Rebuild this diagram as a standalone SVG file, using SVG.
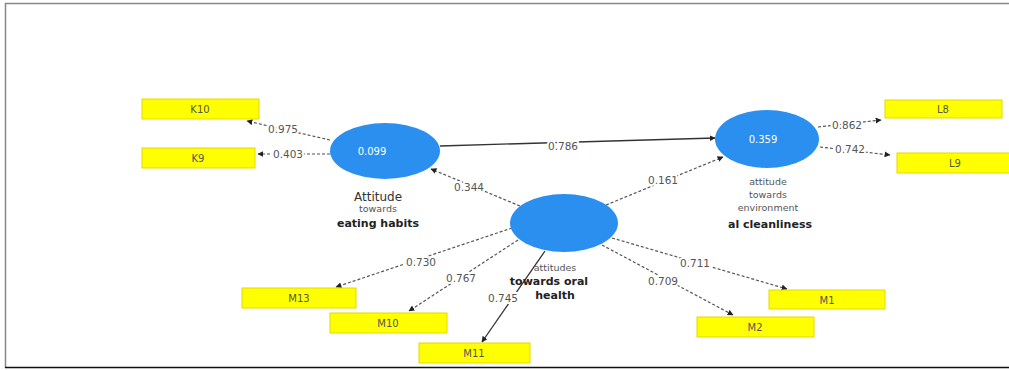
<svg xmlns="http://www.w3.org/2000/svg" width="1009" height="370" viewBox="0 0 1009 370">
<style>
.lv{fill:#2b8ff0}
.ind{fill:#ffff00;stroke:#e6d800;stroke-width:1}
.it{font-family:"DejaVu Sans",Verdana,sans-serif;font-size:10px;fill:#555;text-anchor:middle}
.nl{font-family:"DejaVu Sans",Verdana,sans-serif;font-size:9.5px;fill:#555;text-anchor:middle}
.nt{font-family:"DejaVu Sans",Verdana,sans-serif;font-size:12px;fill:#333;text-anchor:middle}
.nb{font-family:"DejaVu Sans",Verdana,sans-serif;font-size:11px;fill:#222;text-anchor:middle;font-weight:bold}
.wv{font-family:"DejaVu Sans",Verdana,sans-serif;font-size:10px;fill:#fff;text-anchor:middle}
.el{font-family:"DejaVu Sans",Verdana,sans-serif;font-size:10.5px;fill:#555;text-anchor:middle;stroke:#fff;stroke-width:4;paint-order:stroke}
.d{stroke:#555;stroke-width:1.2;stroke-dasharray:3,2;fill:none;marker-end:url(#ah)}
.s{stroke:#333;stroke-width:1.3;fill:none;marker-end:url(#ah)}
</style>
<defs>
<marker id="ah" viewBox="0 0 10 10" refX="9" refY="5" markerWidth="6" markerHeight="6" orient="auto" markerUnits="userSpaceOnUse">
<path d="M0,0 L10,5 L0,10 z" fill="#222"/>
</marker>
</defs>
<rect x="0" y="0" width="1009" height="370" fill="#fff"/>
<g id="frame">
<line x1="5" y1="3.5" x2="1009" y2="3.5" stroke="#888" stroke-width="1.5"/>
<line x1="5.5" y1="3" x2="5.5" y2="368" stroke="#888" stroke-width="1.5"/>
<line x1="5" y1="367.5" x2="1009" y2="367.5" stroke="#111" stroke-width="1.5"/>
</g>
<g id="connectors">
<line class="d" x1="330" y1="140" x2="247" y2="121"/>
<line class="d" x1="330" y1="154" x2="258" y2="154"/>
<line class="s" x1="440" y1="146" x2="715" y2="138"/>
<line class="d" x1="520" y1="206" x2="431" y2="169"/>
<line class="d" x1="606" y1="205" x2="723" y2="157"/>
<line class="d" x1="818" y1="127" x2="881" y2="120"/>
<line class="d" x1="820" y1="147" x2="890" y2="155"/>
<line class="d" x1="512" y1="228" x2="336" y2="287"/>
<line class="d" x1="518" y1="240" x2="409" y2="311"/>
<line class="s" x1="545" y1="251" x2="482" y2="342"/>
<line class="d" x1="612" y1="238" x2="787" y2="289"/>
<line class="d" x1="602" y1="245" x2="733" y2="315"/>
<text class="el" x="283" y="133">0.975</text>
<text class="el" x="288" y="158">0.403</text>
<text class="el" x="563" y="150">0.786</text>
<text class="el" x="469" y="191">0.344</text>
<text class="el" x="663" y="184">0.161</text>
<text class="el" x="847" y="129">0.862</text>
<text class="el" x="850" y="153">0.742</text>
<text class="el" x="421" y="266">0.730</text>
<text class="el" x="461" y="282">0.767</text>
<text class="el" x="503" y="302">0.745</text>
<text class="el" x="695" y="267">0.711</text>
<text class="el" x="663" y="285">0.709</text>
</g>
<g id="eating">
<ellipse class="lv" cx="385" cy="151" rx="55" ry="28"/>
<text class="wv" x="372" y="155">0.099</text>
<text class="nt" x="378" y="201">Attitude</text>
<text class="nl" x="378" y="212">towards</text>
<text class="nb" x="378" y="227">eating habits</text>
</g>
<g id="environment">
<ellipse class="lv" cx="767" cy="139" rx="52" ry="29"/>
<text class="wv" x="763" y="143">0.359</text>
<text class="nl" x="768" y="185">attitude</text>
<text class="nl" x="768" y="198">towards</text>
<text class="nl" x="768" y="211">environment</text>
<text class="nb" x="770" y="228">al cleanliness</text>
</g>
<g id="oral">
<ellipse class="lv" cx="564" cy="223" rx="54" ry="29"/>
<text class="nl" x="555" y="271">attitudes</text>
<text class="nb" x="549" y="285">towards oral</text>
<text class="nb" x="555" y="299">health</text>
</g>
<g id="K10"><rect class="ind" x="142" y="99" width="117" height="20"/><text class="it" x="200" y="113">K10</text></g>
<g id="K9"><rect class="ind" x="142" y="148" width="113" height="20"/><text class="it" x="198" y="162">K9</text></g>
<g id="L8"><rect class="ind" x="885" y="100" width="117" height="18"/><text class="it" x="943" y="113">L8</text></g>
<g id="L9"><rect class="ind" x="897" y="153" width="115" height="20"/><text class="it" x="955" y="167">L9</text></g>
<g id="M13"><rect class="ind" x="242" y="288" width="114" height="20"/><text class="it" x="299" y="302">M13</text></g>
<g id="M10"><rect class="ind" x="330" y="313" width="117" height="20"/><text class="it" x="388" y="327">M10</text></g>
<g id="M11"><rect class="ind" x="419" y="343" width="111" height="20"/><text class="it" x="474" y="357">M11</text></g>
<g id="M1"><rect class="ind" x="769" y="290" width="116" height="19"/><text class="it" x="827" y="304">M1</text></g>
<g id="M2"><rect class="ind" x="697" y="317" width="117" height="20"/><text class="it" x="755" y="331">M2</text></g>
</svg>
